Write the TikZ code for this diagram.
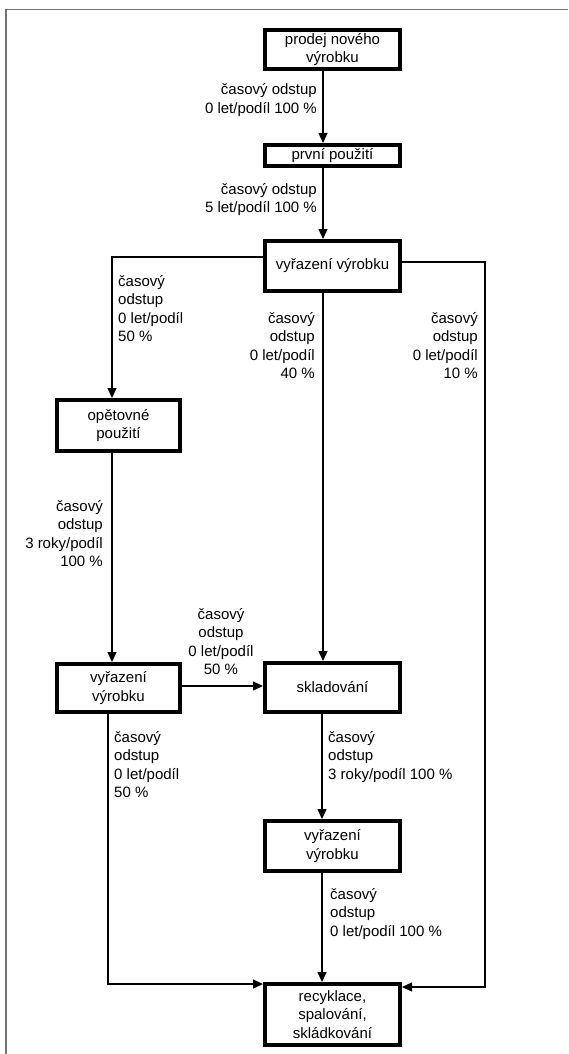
\documentclass[tikz,border=0pt]{standalone}
\usepackage{fontspec}
\setmainfont{Liberation Sans}
\usetikzlibrary{arrows.meta}
\newcommand\lblfont{\fontsize{15}{18.5}\selectfont}
\newcommand\rgtlab[1]{\begin{tabular}[t]{@{}r@{}}#1\end{tabular}}
\newcommand\lftlab[1]{\begin{tabular}[t]{@{}l@{}}#1\end{tabular}}
\newcommand\ctrlab[1]{\begin{tabular}[t]{@{}c@{}}#1\end{tabular}}
\definecolor{framegray}{RGB}{115,115,115}
\tikzset{
  box/.style={draw, line width=4pt, align=center, font=\lblfont, inner sep=0pt},
  widebox/.style={box, minimum width=135pt},
  narrowbox/.style={box, minimum width=123pt},
  arr/.style={line width=1.3pt, -{Triangle[length=10pt,width=9pt]}},
  lab/.style={inner sep=0pt, font=\lblfont},
}
\begin{document}
\begin{tikzpicture}[x=1pt,y=-1pt]
\useasboundingbox (0,0) rectangle (568,1054);
\draw[framegray, line width=1.2pt] (6,1054) -- (6,9.5) -- (568,9.5);

% boxes
\node[widebox, minimum height=39pt] (b1) at (332.5,49.5) {prodej nového\\výrobku};
\node[widebox, minimum height=21pt] (b2) at (332.5,155.5) {první použití};
\node[widebox, minimum height=50pt] (b3) at (332.5,266) {vyřazení výrobku};
\node[narrowbox, minimum height=51pt] (b4) at (118.5,425.5) {opětovné\\použití};
\node[narrowbox, minimum height=48pt] (b5) at (118.5,688) {vyřazení\\výrobku};
\node[widebox, minimum height=49pt] (b6) at (332.5,687.5) {skladování};
\node[widebox, minimum height=50pt] (b7) at (332.5,846) {vyřazení\\výrobku};
\node[widebox, minimum height=61pt] (b8) at (332.5,1014.5) {recyklace,\\spalování,\\skládkování};

% helper coordinates
\coordinate (mx) at (323,0);
\coordinate (mx2) at (322,0);
\coordinate (lx) at (112,0);
\coordinate (lx2) at (108,0);
\coordinate (rx) at (485,0);
\coordinate (yl) at (0,257);
\coordinate (yr) at (0,262);
\coordinate (yh) at (0,686);
\coordinate (yb8l) at (0,984);
\coordinate (yb8r) at (0,987);

% connectors
\draw[arr] (b1.south -| mx) -- (b2.north -| mx);
\draw[arr] (b2.south -| mx) -- (b3.north -| mx);
\draw[arr] (b3.west |- yl) -| (b4.north -| lx);
\draw[arr] (b3.south -| mx) -- (b6.north -| mx);
\draw[arr] (b3.east |- yr) -| (rx |- yb8r) -- (b8.east |- yb8r);
\draw[arr] (b4.south -| lx) -- (b5.north -| lx);
\draw[arr] (b5.east |- yh) -- (b6.west |- yh);
\draw[arr] (b5.south -| lx2) |- (b8.west |- yb8l);
\draw[arr] (b6.south -| mx2) -- (b7.north -| mx2);
\draw[arr] (b7.south -| mx2) -- (b8.north -| mx2);

% labels
\node[lab, anchor=base east] (t1) at (317,95) {\rgtlab{časový odstup\\0 let/podíl 100 \%}};
\node[lab, anchor=base east] (t2) at (317,194) {\rgtlab{časový odstup\\5 let/podíl 100 \%}};
\node[lab, anchor=base west] (t3) at (118,286) {\lftlab{časový\\odstup\\0 let/podíl\\50 \%}};
\node[lab, anchor=base east] (t4) at (315,323) {\rgtlab{časový\\odstup\\0 let/podíl\\40 \%}};
\node[lab, anchor=base east] (t5) at (478,323) {\rgtlab{časový\\odstup\\0 let/podíl\\10 \%}};
\node[lab, anchor=base east] (t6) at (103,511) {\rgtlab{časový\\odstup\\3 roky/podíl\\100 \%}};
\node[lab, anchor=base] (t7) at (221,619) {\ctrlab{časový\\odstup\\0 let/podíl\\50 \%}};
\node[lab, anchor=base west] (t8) at (328,742) {\lftlab{časový\\odstup\\3 roky/podíl 100 \%}};
\node[lab, anchor=base west] (t9) at (114,742) {\lftlab{časový\\odstup\\0 let/podíl\\50 \%}};
\node[lab, anchor=base west] (t10) at (330,899) {\lftlab{časový\\odstup\\0 let/podíl 100 \%}};
\end{tikzpicture}
\end{document}
